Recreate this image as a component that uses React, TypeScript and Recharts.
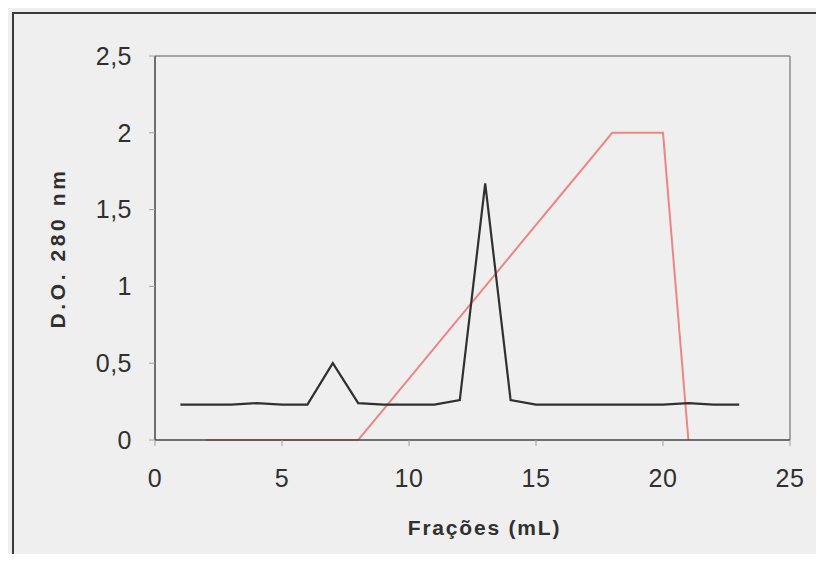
import { LineChart, Line, XAxis, YAxis, ReferenceLine, Label } from 'recharts'

// ── Dados ─────────────────────────────────────────────────
const fractions = [1, 2, 3, 4, 5, 6, 7, 8, 9, 10, 11, 12, 13, 14, 15, 16, 17, 18, 19, 20, 21, 22, 23]
const absorbance = [0.23, 0.23, 0.23, 0.24, 0.23, 0.23, 0.5, 0.24, 0.23, 0.23, 0.23, 0.26, 1.67, 0.26, 0.23, 0.23, 0.23, 0.23, 0.23, 0.23, 0.24, 0.23, 0.23]
const gradient: (number | null)[] = [null, 0, 0, 0, 0, 0, 0, 0, 0.2, 0.4, 0.6, 0.8, 1.0, 1.2, 1.4, 1.6, 1.8, 2.0, 2.0, 2.0, 0, null, null]
const xTicks = [0, 5, 10, 15, 20, 25]
const yTicks = [0, 0.5, 1, 1.5, 2, 2.5]

const data = fractions.map((f, i) => ({ f, od: absorbance[i], grad: gradient[i] }))

const C = { bg: '#efefef', ink: '#303030', axis: '#444444', frame: '#8c8c8c', tick: '#a0a0a0', red: '#ee8585' }
const FONT = "'Liberation Sans', Arial, sans-serif"

const fmt = (v: number) => String(v).replace('.', ',')

// título de eixo; "rot" e não "angle" porque o Label sobrescreve angle
function AxisTitle(props: any) {
  const { viewBox, value, rot = 0, shiftX = 0, shiftY = 0, spacing = 0 } = props
  const x = viewBox.x + viewBox.width / 2 + shiftX
  const y = viewBox.y + viewBox.height / 2 + shiftY
  return (
    <text x={x} y={y} textAnchor="middle" dominantBaseline="central"
      transform={rot ? `rotate(${rot} ${x} ${y})` : undefined}
      style={{ fontFamily: FONT, fontSize: 21, fontWeight: 700, fill: C.ink, letterSpacing: spacing }}>
      {value}
    </text>
  )
}

const tickStyle = { fill: C.ink, fontSize: 25, fontFamily: FONT, letterSpacing: 0.5 }

export default function App() {
  return (
    <div style={{ position: 'relative', width: 824, height: 562, margin: -8, background: C.bg, overflow: 'hidden' }}>
      {/* moldura externa */}
      <div style={{
        position: 'absolute', left: 12, top: 12, width: 900, height: 544,
        borderTop: '2px solid #3a3a3a', borderLeft: '2px solid #3a3a3a', borderBottom: '1px solid #d0d0d0',
      }} />
      <div style={{ position: 'absolute', left: 0, top: 0 }}>
        <LineChart width={824} height={562} data={data} margin={{ top: 56, right: 34, left: 35, bottom: 20 }}>
          <XAxis dataKey="f" type="number" domain={[0, 25]} ticks={xTicks}
            height={102} tickSize={6} tickMargin={23}
            axisLine={{ stroke: C.axis, strokeWidth: 1.5 }} tickLine={{ stroke: C.tick }}
            tick={tickStyle}>
            <Label content={<AxisTitle shiftX={12} shiftY={36} spacing={1.8} />} value="Frações (mL)" />
          </XAxis>
          <YAxis type="number" domain={[0, 2.5]} ticks={yTicks} width={120}
            tickSize={6} tickMargin={17} tickFormatter={fmt}
            axisLine={{ stroke: C.axis, strokeWidth: 1.5 }} tickLine={{ stroke: C.tick }}
            tick={tickStyle}>
            <Label content={<AxisTitle rot={-90} shiftX={-38} spacing={3.6} />} value="D.O. 280 nm" />
          </YAxis>
          <ReferenceLine y={2.5} stroke={C.frame} strokeWidth={1.5} />
          <ReferenceLine x={25} stroke={C.frame} strokeWidth={1.5} />
          <Line dataKey="grad" stroke={C.red} strokeWidth={2} dot={false} isAnimationActive={false} />
          <Line dataKey="od" stroke={C.ink} strokeWidth={2.2} dot={false} isAnimationActive={false} />
        </LineChart>
      </div>
    </div>
  )
}
